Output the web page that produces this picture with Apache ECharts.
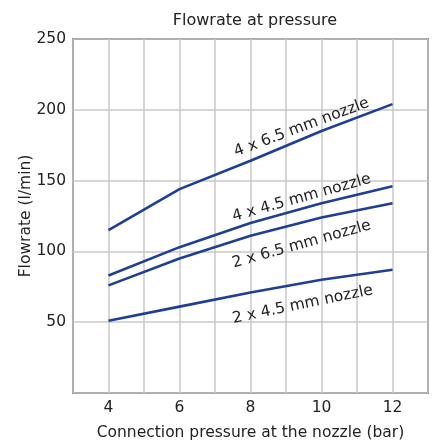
<!DOCTYPE html>
<html><head><meta charset="utf-8">
<script src="https://cdn.jsdelivr.net/npm/echarts@6/dist/echarts.min.js"></script>
<style>html,body{margin:0;padding:0;background:#fff}#c{width:433px;height:446px}</style>
</head><body><div id="c"></div>
<script>
const pressures = [4, 6, 8, 10, 12];
const seriesNames = ['4 x 6.5 mm nozzle', '4 x 4.5 mm nozzle', '2 x 6.5 mm nozzle', '2 x 4.5 mm nozzle'];
const flow4x65 = [115, 144, 164, 185, 204];
const flow4x45 = [83, 103, 120, 134, 146];
const flow2x65 = [76, 95, 111, 124, 134];
const flow2x45 = [51, 61, 71, 80, 87];
const xTicks = [4, 6, 8, 10, 12];
const yTicks = [50, 100, 150, 200, 250];
// label anchor points in data units and their slope angles
const labelX = [9.44, 9.44, 9.44, 9.47];
const labelY = [187.5, 137.8, 105.0, 62.5];
const labelAngle = [20.5, 15.6, 15.6, 11.7];

const allFlows = [flow4x65, flow4x45, flow2x65, flow2x45];
const color = '#1f3f94';
const textColor = '#222';
const font = 'DejaVu Sans';
const fs = 15.5;

const series = allFlows.map((vals, i) => ({
  type: 'line',
  name: seriesNames[i],
  data: pressures.map((p, j) => [p, vals[j]]),
  symbol: 'none',
  lineStyle: { color: color, width: 2.6 },
  silent: true
}));
series.push({
  type: 'scatter',
  silent: true,
  symbolSize: 0,
  itemStyle: { color: '#ffffff', opacity: 1 },
  data: seriesNames.map((n, i) => ({
    value: [labelX[i], labelY[i]],
    label: {
      show: true,
      formatter: n,
      rotate: labelAngle[i],
      color: textColor,
      opacity: 1,
      textBorderWidth: 0,
      fontFamily: font,
      fontSize: fs,
      position: 'inside',
      align: 'center',
      verticalAlign: 'middle'
    }
  }))
});

const chart = echarts.init(document.getElementById('c'), null, { renderer: 'canvas' });
chart.setOption({
  animation: false,
  title: {
    text: 'Flowrate at pressure',
    left: 250, top: 8, textAlign: 'center',
    textStyle: { color: textColor, fontFamily: font, fontSize: 16, fontWeight: 'normal' }
  },
  grid: { left: 73, right: 5, top: 39, bottom: 51, show: true, borderColor: '#333', borderWidth: 1.5, backgroundColor: 'transparent' },
  xAxis: {
    type: 'value', min: 3, max: 13, interval: 1,
    name: 'Connection pressure at the nozzle (bar)',
    nameLocation: 'middle', nameGap: 32, nameMoveOverlap: false,
    nameTextStyle: { color: textColor, fontFamily: font, fontSize: fs },
    axisLine: { show: false },
    axisTick: { show: false },
    axisLabel: {
      color: textColor, fontFamily: font, fontSize: fs, margin: 7,
      formatter: v => xTicks.includes(v) ? String(v) : ''
    },
    splitLine: { show: true, lineStyle: { color: '#c8c8c8', width: 1.5 } }
  },
  yAxis: {
    type: 'value', min: 0, max: 250, interval: 50,
    name: 'Flowrate (l/min)',
    nameLocation: 'middle', nameGap: 39, nameMoveOverlap: false,
    nameTextStyle: { color: textColor, fontFamily: font, fontSize: fs },
    axisLine: { show: false },
    axisTick: { show: false },
    axisLabel: {
      color: textColor, fontFamily: font, fontSize: fs, margin: 7,
      formatter: v => yTicks.includes(v) ? String(v) : ''
    },
    splitLine: { show: true, lineStyle: { color: '#c8c8c8', width: 1.5 } }
  },
  series: series
});
</script></body></html>
